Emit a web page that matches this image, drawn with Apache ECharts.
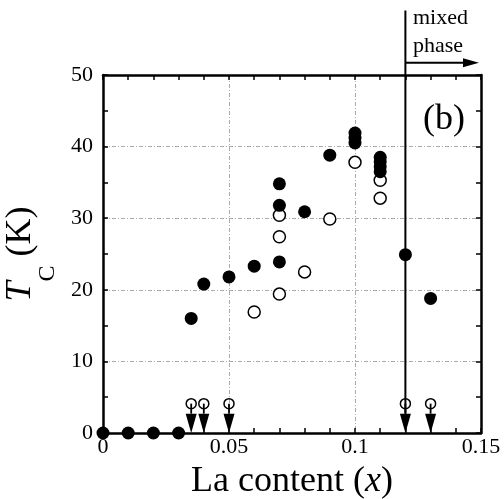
<!DOCTYPE html>
<html>
<head>
<meta charset="utf-8">
<script src="https://cdn.jsdelivr.net/npm/echarts@6/dist/echarts.min.js"></script>
<style>
  html, body { margin: 0; padding: 0; background: #fff; }
  #chart { width: 504px; height: 499px; }
</style>
</head>
<body>
<div id="chart"></div>
<script>
// Tc vs La content
const filledPoints = [
  [0, 0], [0.01, 0], [0.02, 0], [0.03, 0],
  [0.035, 16], [0.04, 20.8], [0.05, 21.8], [0.06, 23.3],
  [0.07, 23.9], [0.07, 31.8], [0.07, 34.8], [0.08, 30.9],
  [0.09, 38.8], [0.1, 40.5], [0.1, 41.2], [0.1, 41.9],
  [0.11, 36.5], [0.11, 37.2], [0.11, 37.9], [0.11, 38.5],
  [0.12, 24.9], [0.13, 18.8]
];
const openPoints = [
  [0.06, 16.9], [0.07, 19.4], [0.07, 27.4], [0.07, 30.4],
  [0.08, 22.5], [0.09, 29.9], [0.1, 37.8], [0.11, 35.3], [0.11, 32.8]
];
// upper limits (open circle with arrow down)
const upperLimits = [[0.035, 4.1], [0.04, 4.1], [0.05, 4.1], [0.12, 4.1], [0.13, 4.1]];
// boundary of mixed phase: x, top of line, y of horizontal arrow, arrow end
const phaseBoundary = [[0.12, 59, 51.7, 0.1492]];

const serif = 'Liberation Serif';
const chart = echarts.init(document.getElementById('chart'));

function arrowHead(x, yTop, yTip) {
  return { type: 'polygon', shape: { points: [[x - 5.5, yTop], [x + 5.5, yTop], [x, yTip]] }, style: { fill: '#000' } };
}

function renderLimit(params, api) {
  const x = api.value(0);
  const c = api.coord([x, api.value(1)]);
  const base = api.coord([x, 2.7]);
  const tip = api.coord([x, 0]);
  return {
    type: 'group',
    children: [
      { type: 'line', shape: { x1: c[0], y1: c[1], x2: base[0], y2: base[1] }, style: { stroke: '#000', lineWidth: 1.8 } },
      arrowHead(base[0], base[1], tip[1]),
      { type: 'circle', shape: { cx: c[0], cy: c[1], r: 5 }, style: { fill: 'none', stroke: '#000', lineWidth: 1.5 } }
    ]
  };
}

function renderBoundary(params, api) {
  const x = api.value(0);
  const top = api.coord([x, api.value(1)]);
  const bottom = api.coord([x, 2.7]);
  const hStart = api.coord([x, api.value(2)]);
  const hEnd = api.coord([api.value(3), api.value(2)]);
  return {
    type: 'group',
    children: [
      { type: 'line', shape: { x1: top[0], y1: top[1], x2: bottom[0], y2: bottom[1] }, style: { stroke: '#000', lineWidth: 2 } },
      { type: 'line', shape: { x1: hStart[0], y1: hStart[1], x2: hEnd[0] - 14, y2: hEnd[1] }, style: { stroke: '#000', lineWidth: 2 } },
      { type: 'polygon', shape: { points: [[hEnd[0] - 16, hEnd[1] - 4.5], [hEnd[0] - 16, hEnd[1] + 4.5], [hEnd[0], hEnd[1]]] }, style: { fill: '#000' } }
    ]
  };
}

const axisLine = { show: true, onZero: false, lineStyle: { color: '#000', width: 2.5 } };
const axisTick = { show: true, inside: true, length: 5, lineStyle: { color: '#000', width: 1.5 } };
const minorTick = { show: true, length: 5, lineStyle: { color: '#000', width: 1.5 } };
const splitLine = { show: true, lineStyle: { color: '#aaa', width: 1, type: [4, 2, 1, 2] } };

const option = {
  animation: false,
  backgroundColor: '#fff',
  grid: { left: 103, right: 23, top: 75, bottom: 66, outerBoundsMode: 'none', containLabel: false },
  xAxis: [
    {
      type: 'value', min: 0, max: 0.15, interval: 0.05,
      axisLine, axisTick, minorTick: { ...minorTick, splitNumber: 5 }, splitLine,
      axisLabel: { color: '#000', fontFamily: serif, fontSize: 22, margin: 3 },
      name: '{n|La content (}{i|x}{n|)}',
      nameLocation: 'middle', nameGap: 31,
      nameTextStyle: {
        rich: {
          n: { fontFamily: serif, fontSize: 36, color: '#000' },
          i: { fontFamily: serif, fontSize: 36, fontStyle: 'italic', color: '#000' }
        }
      }
    },
    {
      type: 'value', position: 'top', min: 0, max: 0.15, interval: 0.05,
      axisLine, axisTick, minorTick: { ...minorTick, splitNumber: 5 },
      axisLabel: { show: false }, splitLine: { show: false }
    }
  ],
  yAxis: [
    {
      type: 'value', min: 0, max: 50, interval: 10,
      axisLine, axisTick, minorTick: { ...minorTick, splitNumber: 2 }, splitLine,
      axisLabel: { color: '#000', fontFamily: serif, fontSize: 22, margin: 10 },
      name: '{t|T}{s|C}{n| (K)}',
      nameLocation: 'middle', nameGap: 46, nameRotate: 90,
      nameTextStyle: {
        rich: {
          t: { fontFamily: serif, fontSize: 36, lineHeight: 40, fontStyle: 'italic', color: '#000', verticalAlign: 'top' },
          s: { fontFamily: serif, fontSize: 24, lineHeight: 24, color: '#000', verticalAlign: 'top', padding: [34, 0, 0, 0] },
          n: { fontFamily: serif, fontSize: 36, lineHeight: 40, color: '#000', verticalAlign: 'top' }
        }
      }
    },
    {
      type: 'value', position: 'right', min: 0, max: 50, interval: 10,
      axisLine, axisTick, minorTick: { ...minorTick, splitNumber: 2 },
      axisLabel: { show: false }, splitLine: { show: false }
    }
  ],
  graphic: [
    { type: 'text', left: 413, top: 4, style: { text: 'mixed\nphase', font: '22px "Liberation Serif"', lineHeight: 28, fill: '#000' } },
    { type: 'text', left: 423, top: 102, style: { text: '(b)', font: '36px "Liberation Serif"', fill: '#000' } }
  ],
  series: [
    {
      type: 'custom', renderItem: renderBoundary, data: phaseBoundary, clip: false, z: 3
    },
    {
      type: 'custom', renderItem: renderLimit, data: upperLimits, clip: false, z: 4
    },
    {
      type: 'scatter', data: openPoints, symbol: 'circle', symbolSize: 12, clip: false, z: 5,
      itemStyle: { color: '#fff', borderColor: '#000', borderWidth: 1.5, opacity: 1 }
    },
    {
      type: 'scatter', data: filledPoints, symbol: 'circle', symbolSize: 13, clip: false, z: 6,
      itemStyle: { color: '#000', opacity: 1 }
    }
  ]
};

chart.setOption(option);
</script>
</body>
</html>
